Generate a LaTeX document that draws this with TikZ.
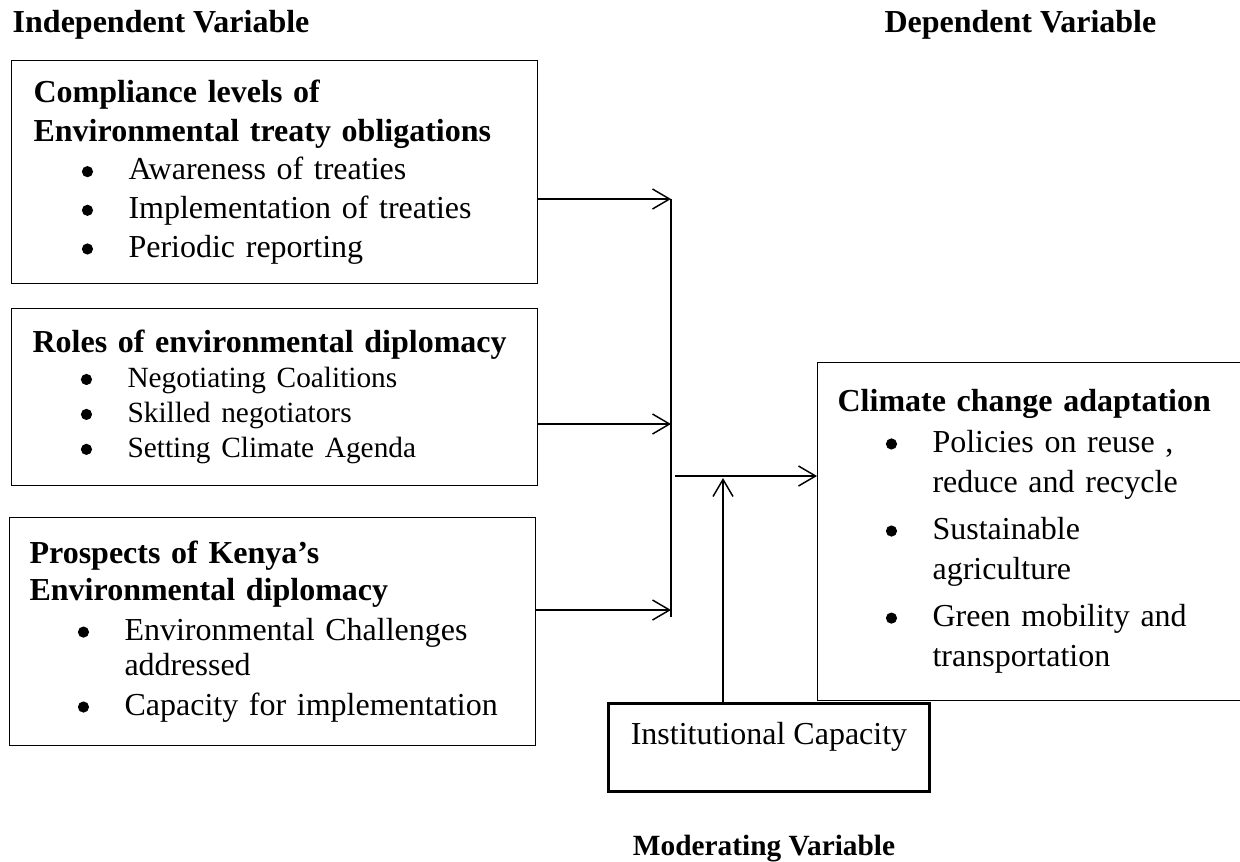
\documentclass[tikz,border=0pt]{standalone}
\usepackage{fontspec}
\setmainfont{Liberation Serif}
\usetikzlibrary{arrows.meta}
\setlength{\parindent}{0pt}
\newcommand{\dotbul}{\tikz[baseline=0pt, x=1pt, y=1pt]\fill (2.1,3.1) circle (2.1pt);}
\newcommand{\bul}[2][0pt]{\par\vspace{#1}\hangindent=35.6pt\hangafter=1%
  \hspace*{18.1pt}\makebox[17.5pt][l]{\dotbul}#2}

\begin{document}
\begin{tikzpicture}[x=0.375pt, y=-0.375pt, line width=0.55pt,
        box/.style = {draw,
            line width=0.45pt,
            anchor=north west,
            inner sep=0pt,
            align=left},
        arr/.style = {-{Straight Barb[length=6.4pt, width=7.5pt]}},
        head/.style = {font=\bfseries\fontsize{12}{14}\selectfont, inner sep=0pt}]

        \useasboundingbox (0,0) rectangle (1240,861);

        % Headings
        \node[head, anchor=base west] (indep) at (12,32) {Independent Variable};
        \node[head, anchor=base east] (dep) at (1157,32) {Dependent Variable};
        \node[head, anchor=base, font=\bfseries\fontsize{11}{13}\selectfont] (mod) at (764,855) {Moderating Variable};

        % Independent variables
        \node[box, minimum width=526*0.375pt, minimum height=223*0.375pt,
            text width=180.75pt, font=\fontsize{12}{14.5}\selectfont] (comp) at (11,60)
            {\textbf{Compliance levels of}\par
             \textbf{Environmental treaty obligations}
             \bul{Awareness of treaties}
             \bul{Implementation of treaties}
             \bul{Periodic reporting}\par};

        \node[box, minimum width=526*0.375pt, minimum height=177*0.375pt,
            text width=181.5pt, font=\fontsize{12}{13.1}\selectfont] (roles) at (11,308)
            {\textbf{Roles of environmental diplomacy}\par
             \fontsize{11}{13.1}\selectfont
             \bul{Negotiating Coalitions}
             \bul{Skilled negotiators}
             \bul{Setting Climate Agenda}\par\vspace{3.5pt}};

        \node[box, minimum width=526*0.375pt, minimum height=228*0.375pt,
            text width=182.25pt, font=\fontsize{12}{13.1}\selectfont] (prosp) at (9,517)
            {\textbf{Prospects of Kenya’s}\par\vspace{0.7pt}
             \textbf{Environmental diplomacy}
             \bul[1.9pt]{Environmental Challenges\newline addressed}
             \bul[1.9pt]{Capacity for implementation}\par\vspace{5.5pt}};

        % Dependent variable
        \node[box, minimum width=430*0.375pt, minimum height=338*0.375pt,
            text width=146.25pt, font=\fontsize{12}{15.2}\selectfont] (adapt) at (817,362)
            {\textbf{Climate change adaptation}
             \bul{Policies on reuse ,\newline reduce and recycle}
             \bul[2.25pt]{Sustainable\newline agriculture}
             \bul[2.25pt]{Green mobility and\newline transportation}\par\vspace{2.25pt}};

        % Moderating variable
        \node[draw, line width=1.1pt, anchor=north west, inner sep=0pt,
            minimum width=321*0.375pt, minimum height=88*0.375pt,
            text height=15.4pt, text depth=17.6pt,
            font=\fontsize{12}{14}\selectfont] (inst) at (607,702) {Institutional Capacity};

        % Junction points
        \coordinate (j1) at (671,199);
        \coordinate (j2) at (671,424);
        \coordinate (j3) at (671,610);
        \coordinate (jbot) at (671,617);
        \coordinate (jout) at (675,476);
        \coordinate (mtip) at (723,478);

        % Arrows
        \draw[arr] (comp.east |- j1) -- (j1);
        \draw[arr] (roles.east |- j2) -- (j2);
        \draw[arr] (prosp.east |- j3) -- (j3);
        \draw (j1) -- (jbot);
        \draw[arr] (jout) -- (adapt.west |- jout);
        \draw[arr] (inst.north -| mtip) -- (mtip);

    \end{tikzpicture}
\end{document}
